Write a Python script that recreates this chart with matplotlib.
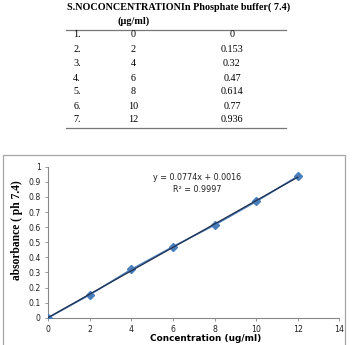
import matplotlib
matplotlib.use("Agg")
import matplotlib.pyplot as plt
from matplotlib.patches import Rectangle
import numpy as np

sno = ["1.", "2.", "3.", "4.", "5.", "6.", "7."]
conc = [0, 2, 4, 6, 8, 10, 12]
absorb = [0, 0.153, 0.32, 0.47, 0.614, 0.77, 0.936]
absorb_txt = ["0", "0.153", "0.32", "0.47", "0.614", "0.77", "0.936"]
slope, intercept = 0.0774, 0.0016
r2 = 0.9997
xticks = [0, 2, 4, 6, 8, 10, 12, 14]
yticks = [0, 0.1, 0.2, 0.3, 0.4, 0.5, 0.6, 0.7, 0.8, 0.9, 1]
ytick_labels = ["0", "0.1", "0.2", "0.3", "0.4", "0.5", "0.6", "0.7", "0.8", "0.9", "1"]

W, H = 354, 345
fig = plt.figure(figsize=(W / 100, H / 100), dpi=100)

def fx(px):
    return px / W

def fy(py):
    return 1 - py / H

serif = "Liberation Serif"
# table
fig.text(fx(67), fy(7.5), "S.NOCONCENTRATIONIn Phosphate buffer( 7.4)", family=serif,
         weight="bold", fontsize=7.3, ha="left", va="center")
fig.text(fx(134), fy(21), "(\u00b5g/ml)", family=serif, weight="bold", fontsize=7.3,
         ha="center", va="center")
fig.add_artist(plt.Line2D([fx(66), fx(286)], [fy(30), fy(30)], color="#777777", lw=0.9))
fig.add_artist(plt.Line2D([fx(66), fx(286)], [fy(127.5), fy(127.5)], color="#777777", lw=0.9))
row_y = [34.5, 49.5, 64, 78.5, 92, 106, 119.5]
for s, c, a, yy in zip(sno, conc, absorb_txt, row_y):
    fig.text(fx(77), fy(yy), s, family=serif, fontsize=7.3, ha="center", va="center")
    fig.text(fx(133), fy(yy), str(c), family=serif, fontsize=7.3, ha="center", va="center")
    fig.text(fx(232), fy(yy), a, family=serif, fontsize=7.3, ha="center", va="center")

# chart border
fig.add_artist(Rectangle((fx(2.5), fy(H + 5)), fx(345) - fx(2.5), fy(155) - fy(H + 5),
                         transform=fig.transFigure, fill=False, edgecolor="#a6a6a6", lw=0.9))

ax = fig.add_axes([fx(48.3), fy(317.7), fx(339.3) - fx(48.3), fy(166.7) - fy(317.7)])
ax.plot(conc, absorb, color="#4a7ebb", lw=1.2, marker="D", markersize=3.8,
        markerfacecolor="#4a7ebb", markeredgecolor="#4a7ebb", zorder=3)
xs = np.array([conc[0], conc[-1]])
ax.plot(xs, slope * xs + intercept, color="#1f2f4f", lw=0.9, zorder=4)
ax.set_xlim(0, 14)
ax.set_ylim(0, 1)
ax.set_xticks(xticks)
ax.set_yticks(yticks)
ax.set_yticklabels(ytick_labels)
for side in ["top", "right"]:
    ax.spines[side].set_visible(False)
for side in ["left", "bottom"]:
    ax.spines[side].set_color("#868686")
    ax.spines[side].set_linewidth(0.8)
ax.tick_params(axis="both", direction="out", length=2.5, width=0.6, color="#868686",
               labelsize=5.6, labelcolor="#222222", pad=3)
for lab in ax.get_xticklabels() + ax.get_yticklabels():
    lab.set_family("DejaVu Sans")

fig.text(fx(197), fy(178), f"y = {slope}x + {intercept}", fontsize=5.8, ha="center",
         va="center", family="DejaVu Sans", color="#222222")
fig.text(fx(197), fy(189.5), f"R\u00b2 = {r2}", fontsize=5.8, ha="center", va="center",
         family="DejaVu Sans", color="#222222")

fig.text(fx(17), fy(230), "absorbance ( ph 7.4)", family=serif, weight="bold", fontsize=8.3,
         rotation=90, ha="center", va="center")
fig.text(fx(205.5), fy(338.5), "Concentration (ug/ml)", family="DejaVu Sans", weight="bold",
         fontsize=6.4, ha="center", va="center")

fig.savefig("out.png", dpi=100)
